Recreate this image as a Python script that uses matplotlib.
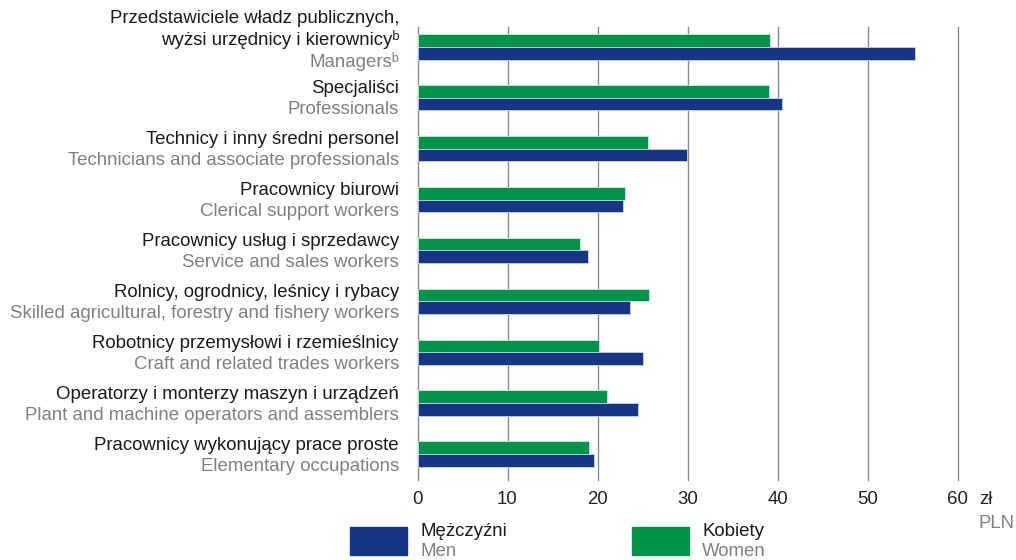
import matplotlib
matplotlib.use("Agg")
import matplotlib.pyplot as plt
from matplotlib.patches import Rectangle
import matplotlib.transforms as mtransforms

plt.rcParams['font.family'] = ['Liberation Sans', 'DejaVu Sans']

labels_pl = [
    "Przedstawiciele władz publicznych,\nwyżsi urzędnicy i kierownicyᵇ",
    "Specjaliści",
    "Technicy i inny średni personel",
    "Pracownicy biurowi",
    "Pracownicy usług i sprzedawcy",
    "Rolnicy, ogrodnicy, leśnicy i rybacy",
    "Robotnicy przemysłowi i rzemieślnicy",
    "Operatorzy i monterzy maszyn i urządzeń",
    "Pracownicy wykonujący prace proste",
]
labels_en = [
    "Managersᵇ",
    "Professionals",
    "Technicians and associate professionals",
    "Clerical support workers",
    "Service and sales workers",
    "Skilled agricultural, forestry and fishery workers",
    "Craft and related trades workers",
    "Plant and machine operators and assemblers",
    "Elementary occupations",
]
men = [55.3, 40.5, 29.9, 22.8, 18.9, 23.6, 25.1, 24.5, 19.6]
women = [39.2, 39.0, 25.6, 23.0, 18.1, 25.7, 20.2, 21.1, 19.0]
xticks = [0, 10, 20, 30, 40, 50, 60]

NAVY = "#163583"
GREEN = "#00934a"
GRAY_TXT = "#808080"
FS = 13.4

W, H = 1016, 560
fig = plt.figure(figsize=(W / 100, H / 100), dpi=100)
ax = fig.add_axes([417.5 / W, 1 - 480 / H, 540 / W, (480 - 27) / H])

n = len(men)
ys = list(range(n))
bh = 0.25
ax.barh([y - bh / 2 for y in ys], women, height=bh, color=GREEN, edgecolor="#cfe9da", linewidth=0.6, zorder=3)
ax.barh([y + bh / 2 for y in ys], men, height=bh, color=NAVY, edgecolor="#c8d0e6", linewidth=0.6, zorder=3)

ax.set_xlim(0, 60)
ax.set_ylim(n - 1 + 0.51, -0.39)
for s in ax.spines.values():
    s.set_visible(False)
for xv in xticks:
    ax.axvline(xv, color="#8c8c8c", linewidth=1.0, zorder=1, clip_on=False)
ax.set_xticks(xticks)
ax.set_xticklabels([str(v) for v in xticks], fontsize=FS, color="#222222")
ax.tick_params(axis="x", length=0, pad=8)
ax.set_yticks([])

# Category labels
px = 1 / 50.9  # data units per pixel
trans = mtransforms.blended_transform_factory(fig.transFigure, ax.transData)
xr = 399 / W
for i in range(n):
    if i == 0:
        ax.text(xr, i - 30.5 * px, "Przedstawiciele władz publicznych,", transform=trans,
                ha="right", va="center_baseline", fontsize=FS, color="#1a1a1a")
        ax.text(xr, i - 9 * px, "wyżsi urzędnicy i kierownicyᵇ", transform=trans,
                ha="right", va="center_baseline", fontsize=FS, color="#1a1a1a")
        ax.text(xr, i + 12.5 * px, labels_en[i], transform=trans,
                ha="right", va="center_baseline", fontsize=FS, color=GRAY_TXT)
    else:
        ax.text(xr, i - 11 * px, labels_pl[i], transform=trans,
                ha="right", va="center_baseline", fontsize=FS, color="#1a1a1a")
        ax.text(xr, i + 10 * px, labels_en[i], transform=trans,
                ha="right", va="center_baseline", fontsize=FS, color=GRAY_TXT)

# Unit label
fig.text(979 / W, 1 - 498 / H, "zł", ha="left", va="center_baseline", fontsize=FS, color="#222222")
fig.text(979 / W, 1 - 521 / H, "PLN", ha="left", va="center_baseline", fontsize=FS, color=GRAY_TXT)

# Legend
legend_items = [(350, NAVY, "Mężczyźni", "Men"), (632, GREEN, "Kobiety", "Women")]
for x0, col, pl, en in legend_items:
    fig.patches.append(Rectangle((x0 / W, 1 - 555 / H), 57 / W, 28 / H,
                                 transform=fig.transFigure, color=col))
    fig.text((x0 + 70) / W, 1 - 530 / H, pl, ha="left", va="center_baseline", fontsize=FS, color="#1a1a1a")
    fig.text((x0 + 70) / W, 1 - 550 / H, en, ha="left", va="center_baseline", fontsize=FS, color=GRAY_TXT)

fig.savefig("out.png", dpi=100)
